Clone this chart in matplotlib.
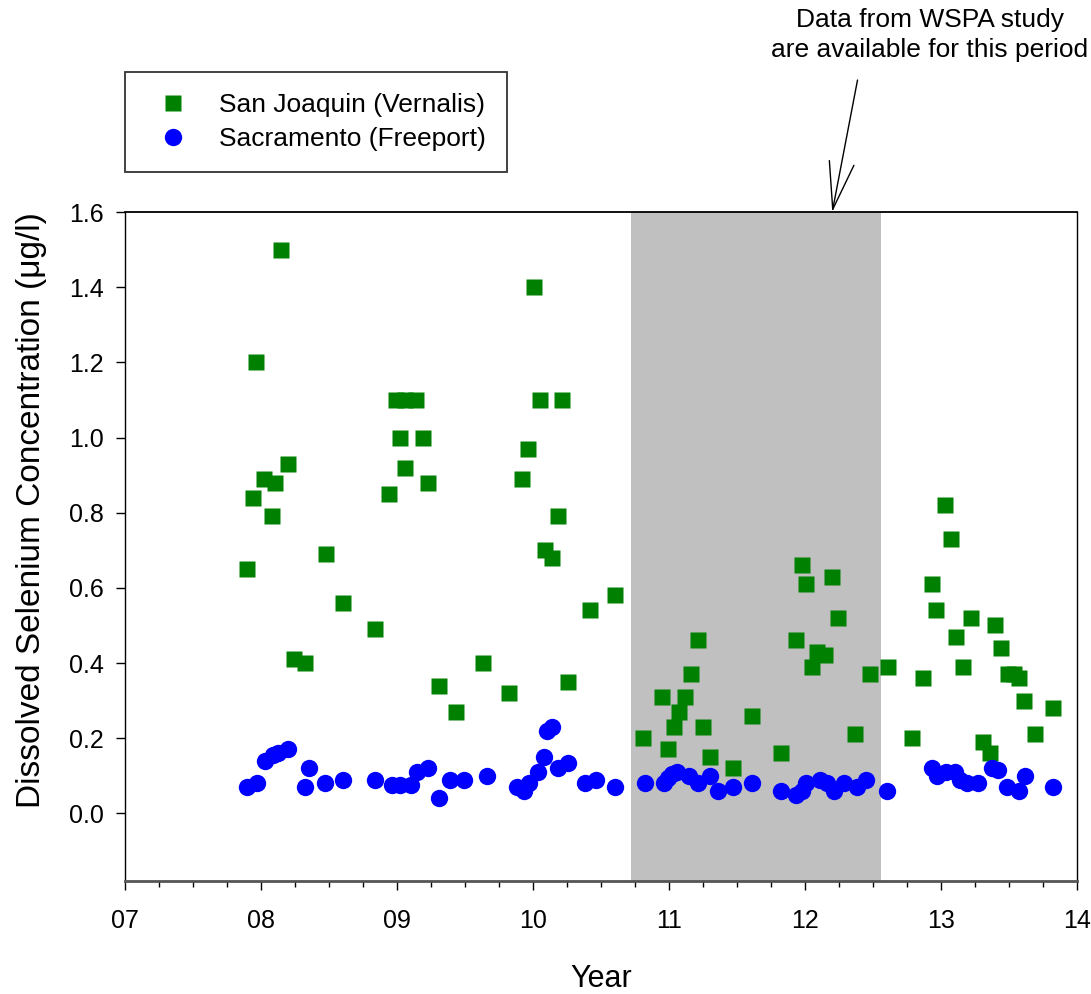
import matplotlib
matplotlib.use('Agg')
import matplotlib.pyplot as plt
import numpy as np

plt.rcParams['font.family'] = ['Liberation Sans', 'DejaVu Sans']

# San Joaquin at Vernalis (year, ug/l)
sj_year = [7.90, 7.94, 7.96, 8.02, 8.08, 8.10, 8.15, 8.20, 8.24, 8.32,
           8.48, 8.60, 8.84, 8.94, 8.99, 9.02, 9.06, 9.06, 9.14, 9.19,
           9.23, 9.31, 9.43, 9.63, 9.82, 9.92, 9.96, 10.01, 10.05, 10.09,
           10.14, 10.18, 10.21, 10.26, 10.42, 10.60,
           10.81, 10.95, 10.99, 11.04, 11.07, 11.12, 11.16, 11.21, 11.25, 11.30,
           11.47, 11.61, 11.82, 11.93, 11.98, 12.01, 12.05, 12.09, 12.15, 12.20,
           12.24, 12.37, 12.48,
           12.61, 12.79, 12.87, 12.93, 12.96, 13.03, 13.07, 13.11, 13.16, 13.22,
           13.31, 13.36, 13.40, 13.44, 13.49, 13.54, 13.57, 13.61, 13.69, 13.82]
sj_se = [0.65, 0.84, 1.20, 0.89, 0.79, 0.88, 1.50, 0.93, 0.41, 0.40,
         0.69, 0.56, 0.49, 0.85, 1.10, 1.00, 0.92, 1.10, 1.10, 1.00,
         0.88, 0.34, 0.27, 0.40, 0.32, 0.89, 0.97, 1.40, 1.10, 0.70,
         0.68, 0.79, 1.10, 0.35, 0.54, 0.58,
         0.20, 0.31, 0.17, 0.23, 0.27, 0.31, 0.37, 0.46, 0.23, 0.15,
         0.12, 0.26, 0.16, 0.46, 0.66, 0.61, 0.39, 0.43, 0.42, 0.63,
         0.52, 0.21, 0.37,
         0.39, 0.20, 0.36, 0.61, 0.54, 0.82, 0.73, 0.47, 0.39, 0.52,
         0.19, 0.16, 0.50, 0.44, 0.37, 0.37, 0.36, 0.30, 0.21, 0.28]

# Sacramento at Freeport
sac_year = [7.90, 7.97, 8.03, 8.09, 8.125, 8.20, 8.32, 8.35, 8.47, 8.60,
            8.84, 8.96, 9.02, 9.10, 9.15, 9.23, 9.31, 9.39, 9.49, 9.66,
            9.88, 9.93, 9.97, 10.04, 10.08, 10.10, 10.14, 10.18, 10.26, 10.38,
            10.46, 10.60,
            10.82, 10.96, 10.99, 11.02, 11.06, 11.15, 11.21, 11.30, 11.36, 11.47,
            11.61, 11.82, 11.93, 11.98, 12.01, 12.11, 12.16, 12.21, 12.29, 12.38,
            12.45, 12.60,
            12.93, 12.97, 13.04, 13.10, 13.14, 13.19, 13.27, 13.375, 13.42, 13.485,
            13.57, 13.62, 13.82]
sac_se = [0.07, 0.08, 0.14, 0.155, 0.16, 0.17, 0.07, 0.12, 0.08, 0.09,
          0.09, 0.075, 0.075, 0.075, 0.11, 0.12, 0.04, 0.09, 0.09, 0.10,
          0.07, 0.06, 0.08, 0.11, 0.15, 0.22, 0.23, 0.12, 0.135, 0.08,
          0.09, 0.07,
          0.08, 0.08, 0.095, 0.105, 0.11, 0.10, 0.08, 0.10, 0.06, 0.07,
          0.08, 0.06, 0.05, 0.06, 0.08, 0.09, 0.08, 0.06, 0.08, 0.07,
          0.09, 0.06,
          0.12, 0.10, 0.11, 0.11, 0.09, 0.08, 0.08, 0.12, 0.115, 0.07,
          0.06, 0.10, 0.07]

wspa_period = (10.72, 12.56)
xticklabels = ['07', '08', '09', '10', '11', '12', '13', '14']

fig = plt.figure(figsize=(10.91, 9.94), dpi=100)
ax = fig.add_axes([0.1146, 0.1137, 0.8726, 0.673])

ax.axvspan(*wspa_period, color='#c0c0c0', lw=0, zorder=0)
ax.plot(sj_year, sj_se, 's', color='#008000', ms=11, mec='none',
        label='San Joaquin (Vernalis)', zorder=3)
ax.plot(sac_year, sac_se, 'o', color='#0000ff', ms=12.5, mec='none',
        label='Sacramento (Freeport)', zorder=3)

ax.set_xlim(7, 14)
ax.set_ylim(-0.18, 1.6)
ax.set_xticks(np.arange(7, 15))
ax.set_xticklabels(xticklabels)
ax.set_xticks(np.arange(7, 14.01, 0.25), minor=True)
ax.set_yticks(np.arange(0, 1.61, 0.2))
ax.set_yticklabels(['%.1f' % v for v in np.arange(0, 1.61, 0.2)])
ax.tick_params(axis='both', which='major', direction='out', length=6.5,
               labelsize=18, width=1)
ax.tick_params(axis='x', which='minor', direction='out', length=4.3, width=1)
ax.tick_params(axis='x', which='major', pad=14)
ax.tick_params(axis='y', which='major', pad=9)

ax.spines['bottom'].set_color('#555555')
ax.spines['bottom'].set_linewidth(2)
ax.spines['top'].set_linewidth(1.3)
ax.spines['left'].set_linewidth(1)
ax.spines['right'].set_linewidth(1)

ax.set_xlabel('Year', fontsize=22)
ax.xaxis.set_label_coords(0.5, -(964 - 881) / 669.0)
ax.set_ylabel('Dissolved Selenium Concentration (\u03bcg/l)', fontsize=24)
ax.yaxis.set_label_coords((47 - 125) / 952.0, (881 - 510) / 669.0)

leg = ax.legend(loc='upper left', bbox_to_anchor=(125 / 1091.0, 1 - 72 / 994.0),
                bbox_transform=fig.transFigure,
                frameon=True, fancybox=False, shadow=False,
                edgecolor='black', fontsize=19, borderpad=0.8, labelspacing=0.38,
                handletextpad=0.75, borderaxespad=0, markerscale=1.0)
leg.get_frame().set_linewidth(1.3)

fig.text(0.852, 0.965, 'Data from WSPA study\nare available for this period',
         ha='center', va='center', fontsize=19, linespacing=1.3)
ax.annotate('', xy=(12.2, 1.6), xycoords='data',
            xytext=(0.786, 0.9195), textcoords='figure fraction',
            arrowprops=dict(arrowstyle='->, head_length=1.7, head_width=0.45',
                            mutation_scale=20, lw=1, color='black',
                            shrinkA=0, shrinkB=0),
            annotation_clip=False)

fig.savefig('out.png', dpi=100)
